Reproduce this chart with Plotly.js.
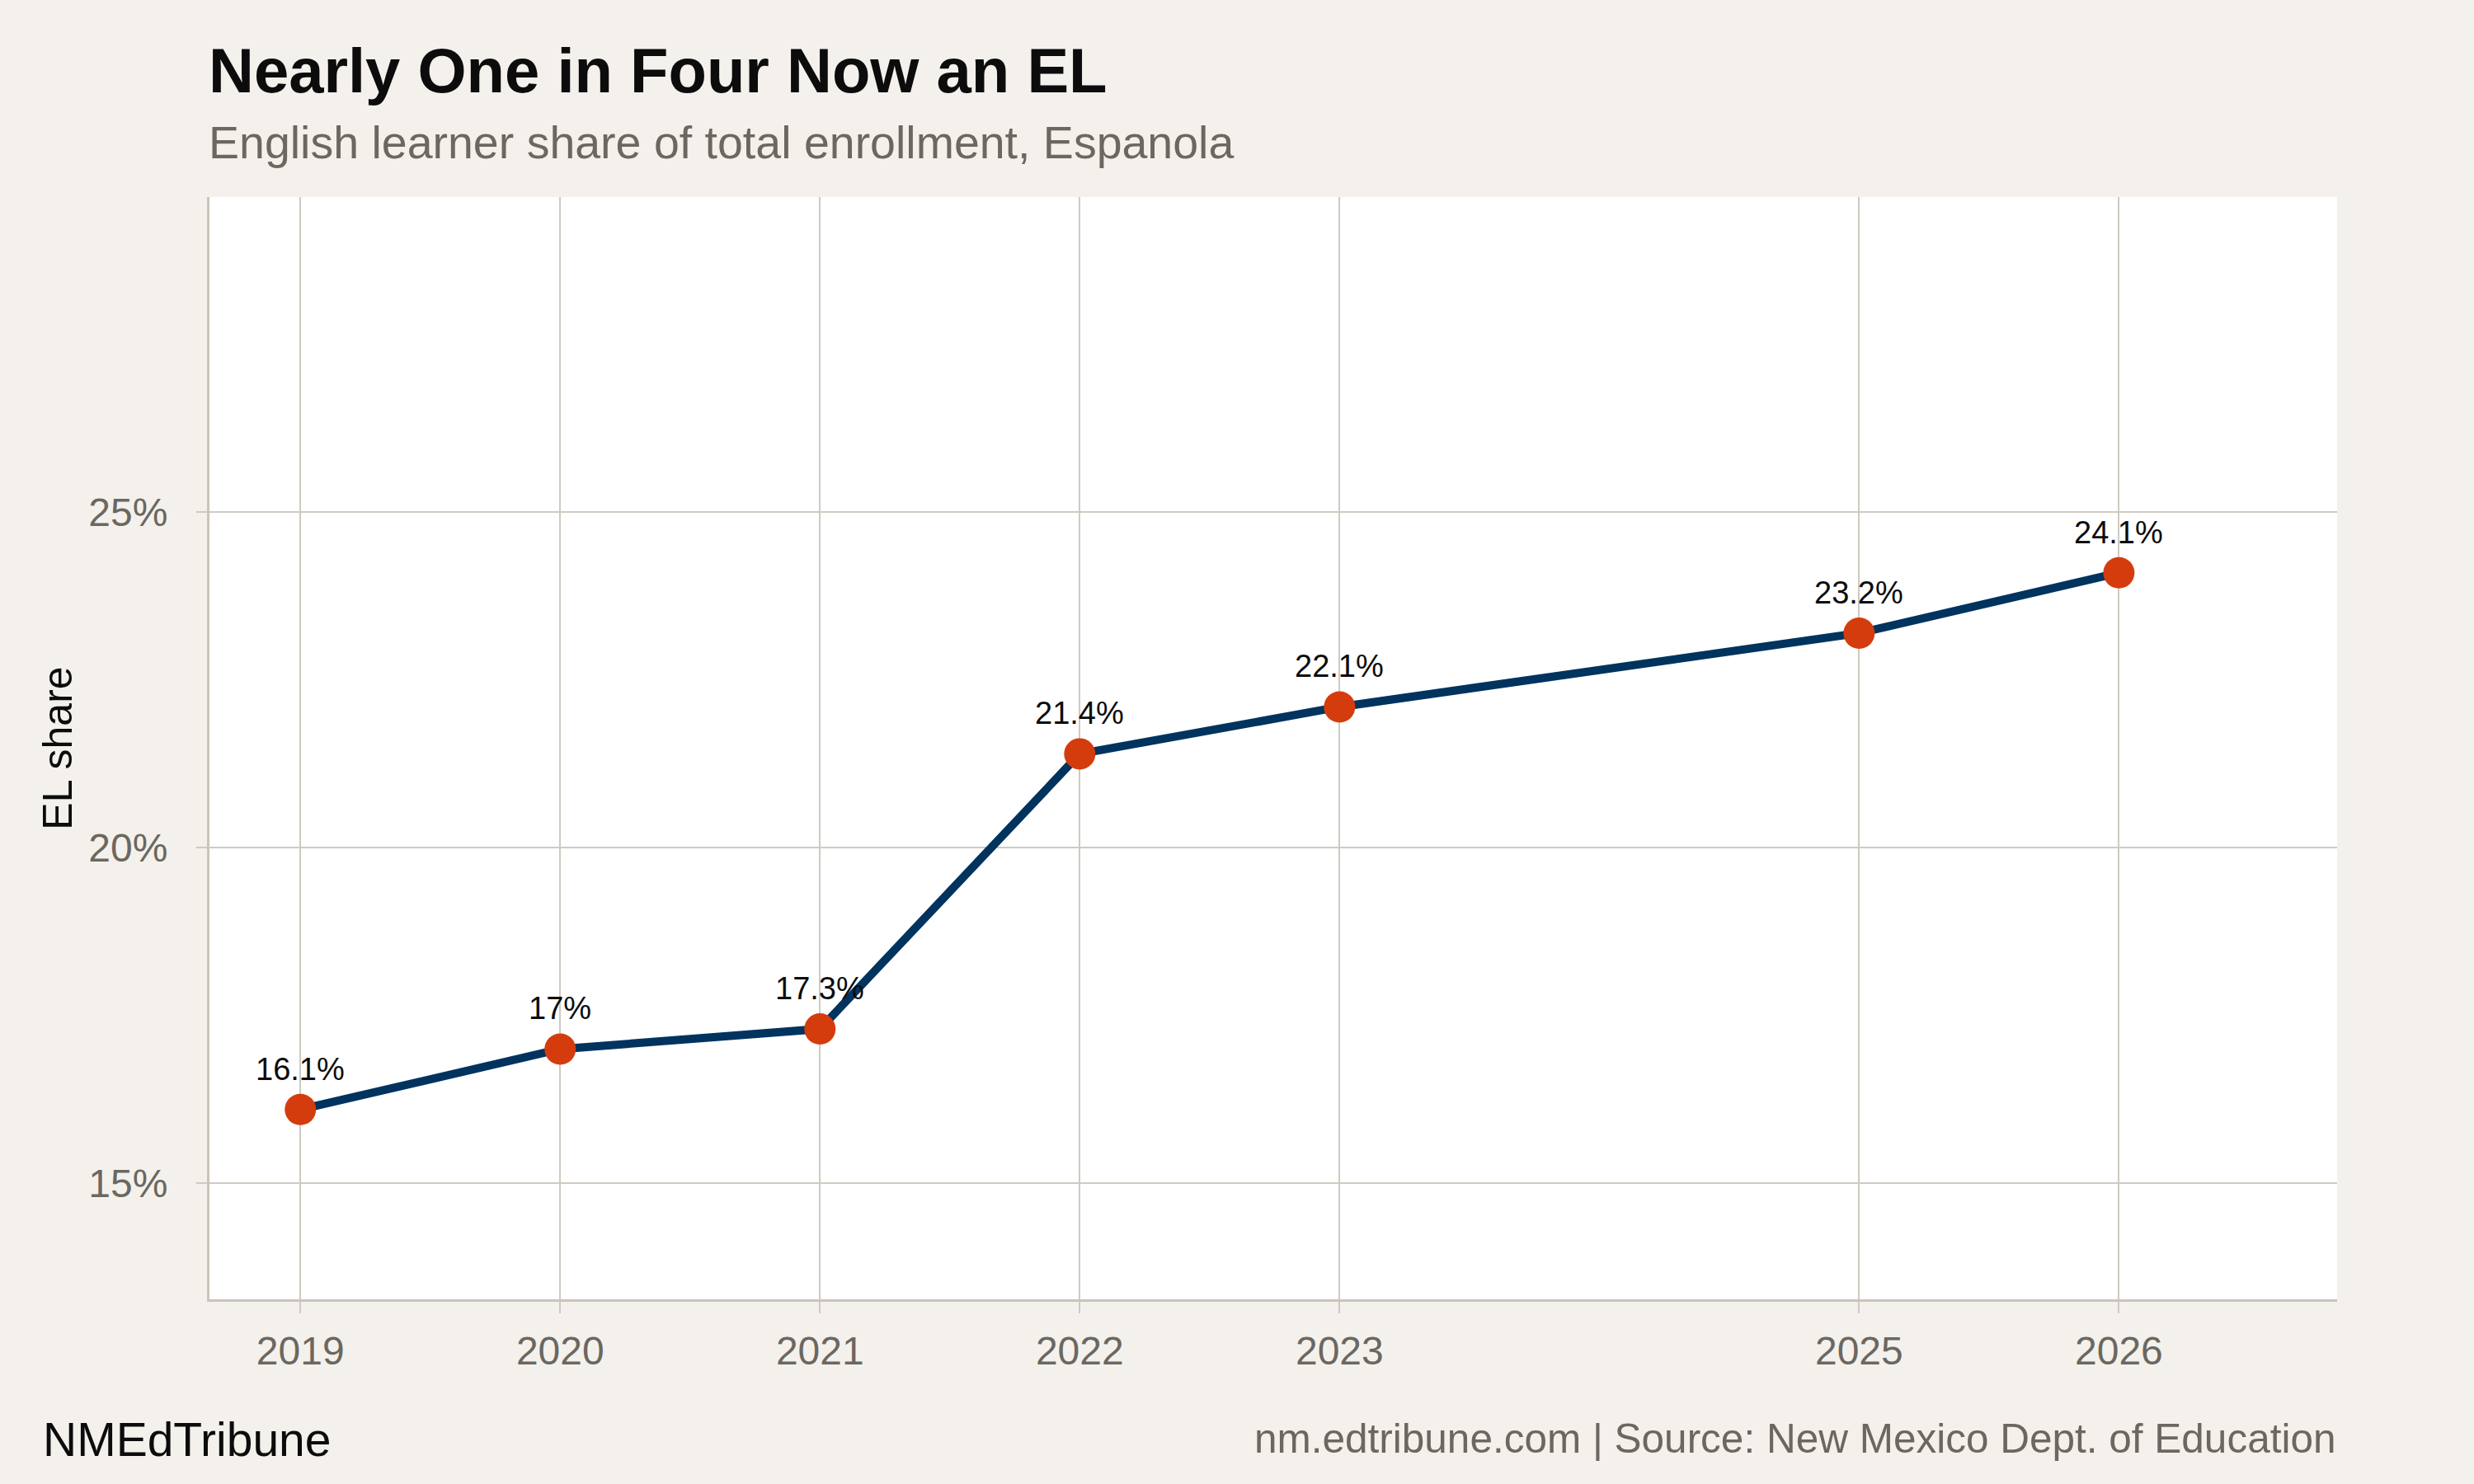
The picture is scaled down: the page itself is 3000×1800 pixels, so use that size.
<!DOCTYPE html>
<html>
<head>
<meta charset="utf-8">
<script src="https://cdn.plot.ly/plotly-3.0.1.min.js"></script>
<style>
  html, body { margin: 0; padding: 0; background: #f4f1ec; }
  #chart { width: 3000px; height: 1800px; }
</style>
</head>
<body>
<div id="chart"></div>
<script>
// EL share of total enrollment, Espanola (percent)
const years = [2019, 2020, 2021, 2022, 2023, 2025, 2026];
const elShare = [16.1, 17.0, 17.3, 21.4, 22.1, 23.2, 24.1];
const yTicks = [15, 20, 25];
const yTickText = ["15%", "20%", "25%"];

const THEME = {
  paper: "#f4f1ec",
  plot: "#ffffff",
  ink: "#0c0c0c",
  muted: "#6b6761",
  grid: "#cfcac1",
  axis: "#cac4ba",
  line: "#01335f",
  point: "#d43c0e",
  font: "\"Liberation Sans\", Arial, Helvetica, sans-serif",
};

// plot box in pixels
const W = 3000, H = 1800;
const M = { l: 254, r: 166, t: 239, b: 224 };

function fmtPct(v) {
  return (Math.round(v * 10) / 10).toString() + "%";
}

const labelNotes = years.map((yr, i) => ({
  x: yr,
  y: elShare[i],
  xref: "x",
  yref: "y",
  text: fmtPct(elShare[i]),
  showarrow: false,
  yanchor: "bottom",
  xanchor: "center",
  yshift: 26,
  font: { family: THEME.font, size: 38, color: THEME.ink },
}));

// page texts, anchored to plot box with pixel shifts
const plotW = W - M.l - M.r;
const pageNotes = [
  {
    text: "<b>Nearly One in Four Now an EL</b>",
    xref: "paper", yref: "paper", x: 0, y: 1,
    xanchor: "left", yanchor: "bottom", yshift: 109, xshift: -3,
    showarrow: false,
    font: { family: THEME.font, size: 76, color: THEME.ink },
  },
  {
    text: "English learner share of total enrollment, Espanola",
    xref: "paper", yref: "paper", x: 0, y: 1,
    xanchor: "left", yanchor: "bottom", yshift: 33, xshift: -3,
    showarrow: false,
    font: { family: THEME.font, size: 55.5, color: THEME.muted },
  },
  {
    text: "NMEdTribune",
    xref: "paper", yref: "paper", x: (50 - M.l) / plotW, y: 0,
    xanchor: "left", yanchor: "bottom", yshift: -204,
    showarrow: false,
    font: { family: THEME.font, size: 57, color: THEME.ink },
  },
  {
    text: "nm.edtribune.com | Source: New Mexico Dept. of Education",
    xref: "paper", yref: "paper", x: 1, y: 0,
    xanchor: "right", yanchor: "bottom", yshift: -198, xshift: 0,
    showarrow: false,
    font: { family: THEME.font, size: 49.5, color: THEME.muted },
  },
];

const trace = {
  type: "scatter",
  mode: "lines+markers",
  x: years,
  y: elShare,
  line: { color: THEME.line, width: 10 },
  marker: { color: THEME.point, size: 38, line: { width: 0 } },
  hoverinfo: "skip",
  cliponaxis: false,
};

const layout = {
  width: W,
  height: H,
  paper_bgcolor: THEME.paper,
  plot_bgcolor: THEME.plot,
  margin: M,
  showlegend: false,
  font: { family: THEME.font, color: THEME.muted },
  xaxis: {
    range: [2018.65, 2026.84],
    tickmode: "array",
    tickvals: years,
    ticktext: years.map(String),
    showgrid: true,
    gridcolor: THEME.grid,
    gridwidth: 2,
    zeroline: false,
    showline: true,
    linecolor: THEME.axis,
    linewidth: 3,
    ticks: "outside",
    ticklen: 14,
    tickwidth: 2,
    tickcolor: THEME.grid,
    ticklabelstandoff: 4,
    tickfont: { family: THEME.font, size: 48, color: THEME.muted },
    fixedrange: true,
  },
  yaxis: {
    range: [13.27, 29.7],
    tickmode: "array",
    tickvals: yTicks,
    ticktext: yTickText,
    showgrid: true,
    gridcolor: THEME.grid,
    gridwidth: 2,
    zeroline: false,
    showline: true,
    linecolor: THEME.axis,
    linewidth: 3,
    ticks: "outside",
    ticklen: 13,
    tickwidth: 2,
    tickcolor: THEME.grid,
    ticklabelstandoff: 25,
    tickfont: { family: THEME.font, size: 48, color: THEME.muted },
    title: {
      text: "EL share",
      standoff: 4,
      font: { family: THEME.font, size: 50, color: THEME.ink },
    },
    fixedrange: true,
  },
  annotations: labelNotes.concat(pageNotes),
};

Plotly.newPlot("chart", [trace], layout, { displayModeBar: false, staticPlot: true });
</script>
</body>
</html>
